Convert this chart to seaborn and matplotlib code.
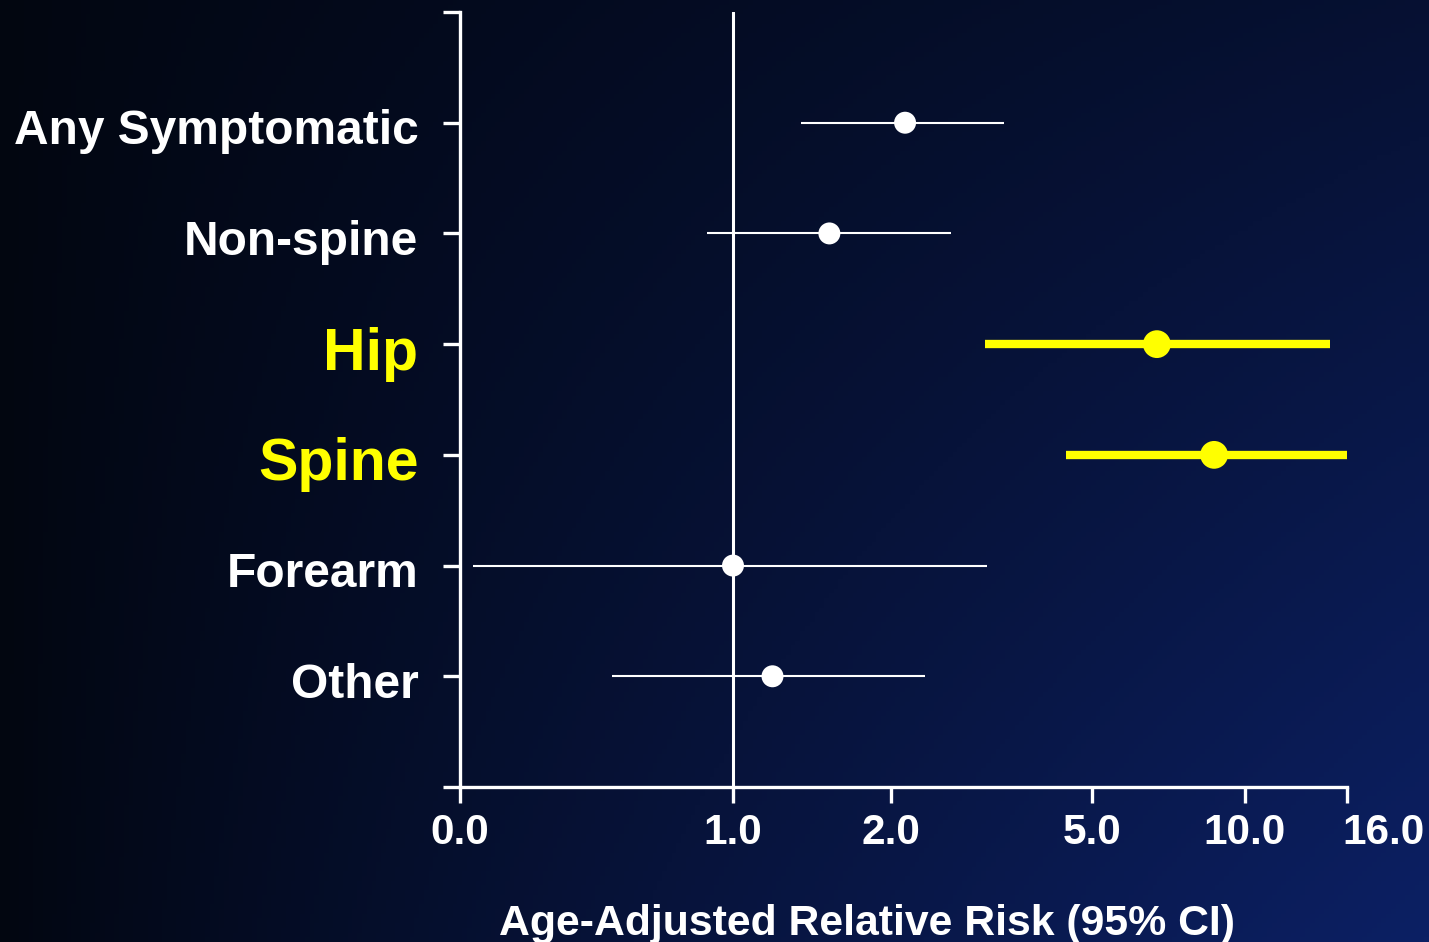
import numpy as np
import pandas as pd
import matplotlib
matplotlib.use("Agg")
import matplotlib.pyplot as plt
import matplotlib.transforms as mtransforms
import seaborn as sns

# Fracture sites and age-adjusted relative risks with 95% confidence limits
sites = ["Any Symptomatic", "Non-spine", "Hip", "Spine", "Forearm", "Other"]
rr = [2.21, 1.61, 7.12, 8.99, 1.00, 1.25]
ci_low = [1.43, 0.905, 3.40, 4.61, 0.048, 0.557]
ci_high = [3.69, 2.90, 15.0, 16.0, 3.43, 2.51]
highlight = [False, False, True, True, False, False]

tick_values = [0.0, 1.0, 2.0, 5.0, 10.0, 16.0]
tick_labels = ["0.0", "1.0", "2.0", "5.0", "10.0", "16.0"]
# spacing of the printed ticks along the axis (relative units)
tick_spacing = [0.0, 273.0, 431.0, 632.0, 785.0, 887.0]

WHITE = "#ffffff"
YELLOW = "#ffff00"

df = pd.DataFrame({"site": sites, "rr": rr, "lo": ci_low, "hi": ci_high,
                   "group": ["key" if h else "other" for h in highlight]})
df["pos"] = np.arange(len(df))

sns.set_theme(style="white")
plt.rcParams["font.family"] = ["Liberation Sans", "DejaVu Sans"]
plt.rcParams["font.weight"] = "bold"

fig = plt.figure(figsize=(14.29, 9.42), dpi=100)

# dark navy background gradient
bg = fig.add_axes([0, 0, 1, 1], zorder=-10)
h, w = 200, 300
yy, xx = np.mgrid[0:1:h * 1j, 0:1:w * 1j]
t = np.clip(xx * (0.35 + 0.65 * yy), 0, 1) ** 0.85
c0 = np.array([2, 6, 16]) / 255.0
c1 = np.array([12, 32, 100]) / 255.0
img = c0[None, None, :] + (c1 - c0)[None, None, :] * t[..., None]
bg.imshow(img, aspect="auto", extent=[0, 1, 0, 1], origin="upper")
bg.set_axis_off()

ax = fig.add_axes([460 / 1429, 1 - 787 / 942, 887 / 1429, 775 / 942])
ax.set_facecolor("none")

fwd = lambda v: np.interp(v, tick_values, tick_spacing)
inv = lambda p: np.interp(p, tick_spacing, tick_values)
ax.set_xscale("function", functions=(fwd, inv))

# reference line at relative risk 1.0
ax.axvline(1.0, color=WHITE, lw=2.2, zorder=1)

# confidence intervals
for _, r in df.iterrows():
    key = r["group"] == "key"
    ax.hlines(r["pos"], r["lo"], r["hi"], color=YELLOW if key else WHITE,
              lw=6.0 if key else 1.5, zorder=2)

sns.scatterplot(data=df, x="rr", y="pos", hue="group", size="group",
                palette={"key": YELLOW, "other": WHITE},
                sizes={"key": 400, "other": 250},
                linewidth=0, legend=False, ax=ax, zorder=3)

ax.set_xlim(0, 16)
ax.set_ylim(6, -1)

ax.set_xticks(tick_values)
ax.set_xticklabels(tick_labels)
ax.xaxis.set_minor_locator(matplotlib.ticker.NullLocator())
ax.set_yticks(np.arange(-1, 7))
ax.set_yticklabels([""] + sites + [""])

for sp in ["top", "right"]:
    ax.spines[sp].set_visible(False)
for sp in ["left", "bottom"]:
    ax.spines[sp].set_color(WHITE)
    ax.spines[sp].set_linewidth(2.4)

ax.tick_params(axis="x", direction="out", length=11.5, width=2.4,
               color=WHITE, labelcolor=WHITE, labelsize=30.5, pad=7, bottom=True)
ax.tick_params(axis="y", direction="out", length=12, width=2.4,
               color=WHITE, labelcolor=WHITE, labelsize=34.5, pad=18, left=True)

# site labels sit a little below their tick
shift_down = mtransforms.ScaledTranslation(0, -4 / 100, fig.dpi_scale_trans)
for lab in ax.get_yticklabels():
    lab.set_transform(lab.get_transform() + shift_down)

for lab, key in zip(ax.get_yticklabels()[1:-1], highlight):
    lab.set_fontweight("bold")
    if key:
        lab.set_color(YELLOW)
        lab.set_fontsize(42.5)
for lab in ax.get_xticklabels():
    lab.set_fontweight("bold")
last = ax.get_xticklabels()[-1]
last.set_horizontalalignment("left")
last.set_transform(last.get_transform()
                   + mtransforms.ScaledTranslation(-5 / 100, 0, fig.dpi_scale_trans))

ax.set_xlabel("Age-Adjusted Relative Risk (95% CI)", color=WHITE,
              fontsize=30.8, fontweight="bold")
ax.xaxis.set_label_coords(0.459, -0.151)
ax.set_ylabel("")
ax.grid(False)

fig.savefig("out.png", dpi=100)
